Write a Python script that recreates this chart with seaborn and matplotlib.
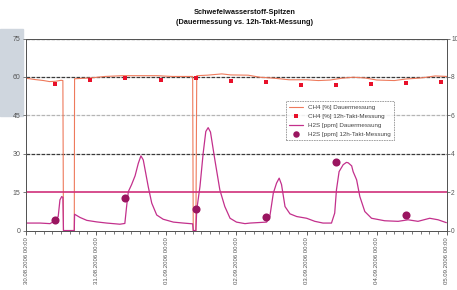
import pandas as pd
import matplotlib.pyplot as plt
import matplotlib.dates as mdates
from matplotlib.patches import Rectangle
import seaborn as sns

sns.set_theme(style="white")
plt.rcParams['font.family'] = ['Liberation Sans', 'DejaVu Sans']

start = pd.Timestamp("2006-08-30 00:00")
end = pd.Timestamp("2006-09-05 00:00")

# CH4 [%] continuous measurement (hours after start)
ch4_hours = [0, 3, 6, 8, 10, 12, 12.6, 12.8, 16.5, 16.6, 22, 27, 33, 45, 50,
             57, 57.2, 58.1, 58.4, 62, 67, 70, 76, 80, 85, 90, 96, 100, 104,
             108, 112, 116, 120, 126, 130, 135, 140, 144]
ch4_values = [59.5, 59.0, 58.6, 58.2, 58.3, 58.7, 58.6, 0, 0, 59.3, 59.6, 60.2,
              60.5, 60.5, 60.2, 60.2, 0, 0, 60.5, 60.7, 61.2, 60.8, 60.7, 59.9,
              59.5, 58.9, 58.9, 58.6, 58.8, 59.5, 59.9, 59.6, 58.8, 58.6, 59.2,
              59.6, 60.4, 60.2]

# CH4 [%] 12h sampling
ch4_takt_hours = [10, 22, 34, 46, 58, 70, 82, 94, 106, 118, 130, 142]
ch4_takt_values = [57.3, 58.9, 59.5, 58.9, 59.5, 58.6, 58.0, 56.9, 56.9, 57.2,
                   57.6, 58.2]

# H2S [ppm] continuous measurement
h2s_hours = [0.2, 4.8, 8.2, 9.2, 11.0, 11.6, 12.2, 12.6, 12.8, 16.5, 16.6, 18.5,
             20.8, 24.2, 27.6, 32.1, 33.8, 34.4, 35.0, 36.1, 37.3, 38.4, 39.3,
             40.1, 41.8, 43.0, 44.7, 46.9, 50.4, 53.8, 57.0, 57.2, 58.1, 58.4,
             59.5, 60.6, 61.5, 62.3, 63.1, 64.6, 66.3, 68.0, 69.8, 72.0, 74.9,
             76.6, 82.3, 83.4, 84.6, 85.7, 86.6, 87.4, 88.6, 90.3, 92.6, 96.0,
             98.8, 101.6, 104.5, 105.6, 106.2, 107.1, 108.5, 109.6, 110.2,
             111.4, 111.9, 113.1, 114.2, 115.9, 118.2, 122.7, 127.3, 130.7,
             134.1, 138.1, 141.0, 143.8]
h2s_values = [0.39, 0.39, 0.36, 0.45, 0.73, 1.60, 1.77, 1.73, 0, 0, 0.85, 0.68,
              0.53, 0.45, 0.39, 0.33, 0.37, 1.25, 2.03, 2.39, 2.85, 3.50, 3.89,
              3.68, 2.29, 1.43, 0.81, 0.59, 0.44, 0.39, 0.35, 0, 0, 1.08,
              2.29, 4.03, 5.16, 5.36, 5.13, 3.68, 2.12, 1.25, 0.64, 0.44, 0.36,
              0.39, 0.44, 0.73, 1.95, 2.47, 2.73, 2.40, 1.25, 0.87, 0.73, 0.64,
              0.48, 0.39, 0.39, 0.91, 2.12, 3.07, 3.43, 3.55, 3.53,
              3.37, 3.07, 2.64, 1.77, 0.99, 0.64, 0.51, 0.48, 0.56,
              0.48, 0.64, 0.56, 0.41]

# H2S [ppm] 12h sampling
h2s_takt_hours = [10, 34, 58, 82, 106, 130]
h2s_takt_values = [0.56, 1.69, 1.12, 0.68, 3.55, 0.81]

h2s_limit = 2

def to_time(hours):
    return start + pd.to_timedelta(hours, unit="h")

ch4 = pd.DataFrame({"Zeit": to_time(ch4_hours), "Wert": ch4_values})
ch4_takt = pd.DataFrame({"Zeit": to_time(ch4_takt_hours), "Wert": ch4_takt_values})
h2s = pd.DataFrame({"Zeit": to_time(h2s_hours), "Wert": h2s_values})
h2s_takt = pd.DataFrame({"Zeit": to_time(h2s_takt_hours), "Wert": h2s_takt_values})

fig = plt.figure(figsize=(4.57, 2.90), dpi=100)
fig.patches.append(Rectangle((0, 0.6), 0.05, 0.3, transform=fig.transFigure,
                             color="#cfd6de", zorder=-5))
ax = fig.add_axes([0.057, 0.205, 0.921, 0.662])
ax2 = ax.twinx()

sns.lineplot(data=ch4, x="Zeit", y="Wert", ax=ax, color="#ee7a5c", lw=0.8,
             estimator=None, sort=False, label="CH4 [%] Dauermessung")
sns.scatterplot(data=ch4_takt, x="Zeit", y="Wert", ax=ax, color="#e8102a",
                marker="s", s=10, linewidth=0, label="CH4 [%] 12h-Takt-Messung",
                zorder=5)
sns.lineplot(data=h2s, x="Zeit", y="Wert", ax=ax2, color="#c3308c", lw=0.9,
             estimator=None, sort=False, label="H2S [ppm] Dauermessung")
sns.scatterplot(data=h2s_takt, x="Zeit", y="Wert", ax=ax2, color="#9a1560",
                s=34, linewidth=0, label="H2S [ppm] 12h-Takt-Messung", zorder=5)
ax2.axhline(h2s_limit, color="#d0307a", lw=1.2, zorder=1)

ax.set_xlim(start, end)
ax.set_ylim(0, 75)
ax.set_yticks(range(0, 76, 15))
ax2.set_ylim(0, 10)
ax2.set_yticks(range(0, 11, 2))

ax.grid(axis="y", lw=0.9)
grid_colors = ["none", "none", "#3a3a3a", "#b5b5b5", "#3a3a3a", "#3a3a3a"]
for gl, c in zip(ax.get_ygridlines(), grid_colors):
    gl.set_color(c)
    gl.set_linestyle((0, (3, 1)))

ax.xaxis.set_major_locator(mdates.DayLocator())
ax.xaxis.set_minor_locator(mdates.HourLocator(byhour=range(0, 24, 3)))
ax.xaxis.set_major_formatter(mdates.DateFormatter("%d.%m.%Y %H:%M"))
ax.tick_params(axis="x", which="major", rotation=90, labelsize=4.3, length=3,
               width=0.6, color="#444", labelcolor="#555", pad=2, bottom=True)
ax.tick_params(axis="x", which="minor", length=2, width=0.5, color="#444",
               bottom=True)
ax.tick_params(axis="y", labelsize=5, labelcolor="#555", length=2, width=0.5,
               color="#444", pad=2, left=True)
ax2.tick_params(axis="y", labelsize=4.8, labelcolor="#555", length=2, width=0.5,
                color="#444", pad=1, right=True)
for a in (ax, ax2):
    a.set_xlabel("")
    a.set_ylabel("")
    for sp in a.spines.values():
        sp.set_color("#555")
        sp.set_linewidth(0.7)

h1, l1 = ax.get_legend_handles_labels()
h2, l2 = ax2.get_legend_handles_labels()
if ax.get_legend():
    ax.get_legend().remove()
if ax2.get_legend():
    ax2.get_legend().remove()
leg = ax2.legend(h1 + h2, l1 + l2, loc="upper left", bbox_to_anchor=(0.61, 0.69),
                 fontsize=4.5, frameon=True, fancybox=False, borderpad=0.5,
                 handlelength=2.2, labelspacing=0.6, markerscale=0.8)
leg.get_frame().set_edgecolor("#777")
leg.get_frame().set_linewidth(0.6)
leg.get_frame().set_linestyle((0, (2, 1)))
for t in leg.get_texts():
    t.set_color("#444")

fig.text(0.535, 0.94, "Schwefelwasserstoff-Spitzen\n(Dauermessung vs. 12h-Takt-Messung)",
         ha="center", va="center", fontsize=5.3, fontweight="bold",
         linespacing=1.5, color="#111")

fig.savefig("out.png", dpi=100)
